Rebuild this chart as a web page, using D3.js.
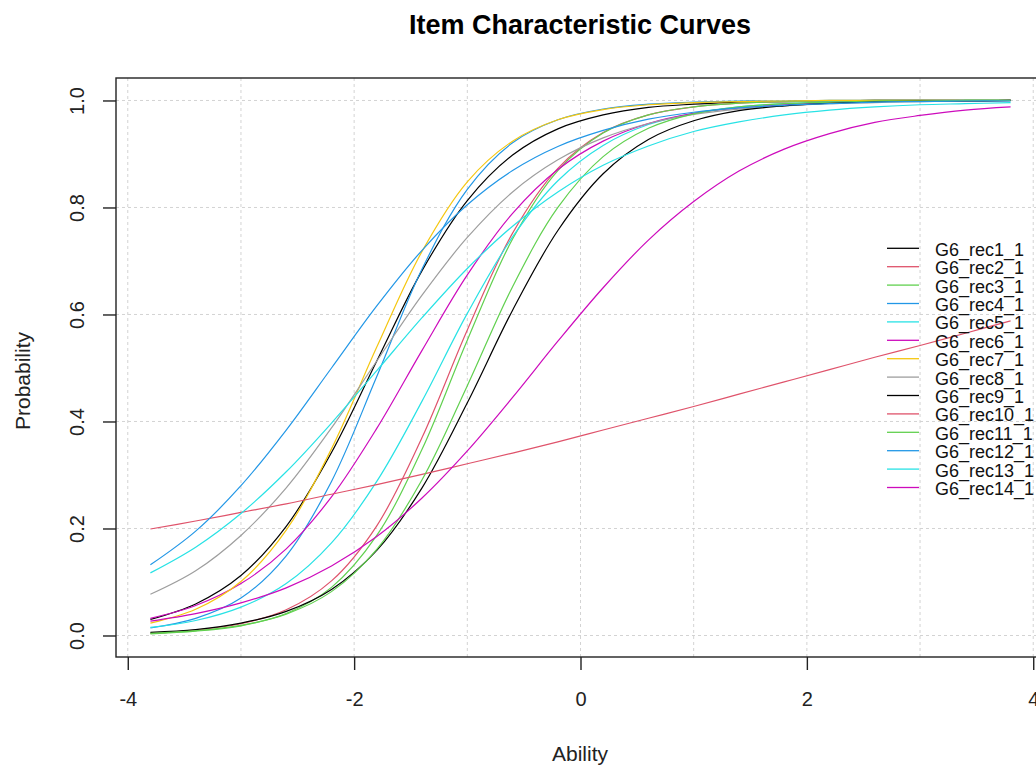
<!DOCTYPE html>
<html><head><meta charset="utf-8">
<script src="https://cdn.jsdelivr.net/npm/d3@7"></script>
<style>
body{margin:0;background:#fff;}
svg{display:block;font-family:"Liberation Sans",Arial,sans-serif;}
</style>
</head><body>
<svg id="chart" width="1036" height="767"></svg>
<script>
// ---------------- data ----------------
const ability = [-3.8,-3.4,-3.0,-2.6,-2.2,-1.8,-1.4,-1.0,-0.6,-0.2,0.2,0.6,1.0,1.4,1.8,2.2,2.6,3.0,3.4,3.8];
const itemNames = ["G6_rec1_1","G6_rec2_1","G6_rec3_1","G6_rec4_1","G6_rec5_1","G6_rec6_1","G6_rec7_1",
                   "G6_rec8_1","G6_rec9_1","G6_rec10_1","G6_rec11_1","G6_rec12_1","G6_rec13_1","G6_rec14_1"];
const rec1  = [0.030,0.059,0.112,0.204,0.342,0.513,0.682,0.813,0.898,0.947,0.973,0.987,0.993,0.997,0.998,0.999,1.000,1.000,1.000,1.000];
const rec2  = [0.004,0.010,0.022,0.048,0.102,0.205,0.370,0.571,0.752,0.873,0.940,0.973,0.988,0.995,0.998,0.999,1.000,1.000,1.000,1.000];
const rec3  = [0.003,0.008,0.018,0.041,0.090,0.187,0.348,0.552,0.741,0.869,0.939,0.973,0.988,0.995,0.998,0.999,1.000,1.000,1.000,1.000];
const rec4  = [0.014,0.032,0.070,0.149,0.288,0.484,0.685,0.834,0.921,0.964,0.984,0.993,0.997,0.999,0.999,1.000,1.000,1.000,1.000,1.000];
const rec5  = [0.015,0.028,0.053,0.097,0.173,0.288,0.438,0.602,0.745,0.850,0.916,0.955,0.976,0.988,0.994,0.997,0.998,0.999,1.000,1.000];
const rec6  = [0.032,0.056,0.097,0.162,0.259,0.387,0.533,0.674,0.789,0.871,0.924,0.957,0.976,0.986,0.992,0.996,0.998,0.999,0.999,1.000];
const rec7  = [0.023,0.049,0.101,0.197,0.349,0.539,0.718,0.848,0.924,0.964,0.983,0.992,0.996,0.998,0.999,1.000,1.000,1.000,1.000,1.000];
const rec8  = [0.077,0.121,0.187,0.276,0.388,0.513,0.636,0.744,0.829,0.889,0.930,0.957,0.974,0.984,0.990,0.994,0.996,0.998,0.999,0.999];
const rec9  = [0.006,0.011,0.023,0.045,0.086,0.159,0.276,0.435,0.608,0.757,0.863,0.927,0.962,0.981,0.990,0.995,0.998,0.999,0.999,1.000];
const rec10 = [0.199,0.214,0.230,0.246,0.264,0.282,0.301,0.321,0.341,0.362,0.384,0.406,0.428,0.451,0.474,0.497,0.520,0.542,0.565,0.588];
const rec11 = [0.004,0.009,0.019,0.040,0.082,0.161,0.291,0.467,0.652,0.800,0.895,0.948,0.975,0.988,0.994,0.997,0.999,0.999,1.000,1.000];
const rec12 = [0.132,0.195,0.280,0.384,0.500,0.616,0.720,0.805,0.869,0.914,0.944,0.965,0.978,0.986,0.991,0.994,0.997,0.998,0.999,0.999];
const rec13 = [0.117,0.165,0.228,0.306,0.397,0.495,0.594,0.686,0.765,0.829,0.879,0.915,0.942,0.960,0.973,0.982,0.988,0.992,0.994,0.996];
const rec14 = [0.027,0.041,0.061,0.089,0.130,0.185,0.257,0.345,0.445,0.550,0.650,0.739,0.811,0.868,0.909,0.938,0.959,0.972,0.982,0.988];
const seriesValues = [rec1,rec2,rec3,rec4,rec5,rec6,rec7,rec8,rec9,rec10,rec11,rec12,rec13,rec14];
const palette = ["#000000","#DF536B","#61D04F","#2297E6","#28E2E5","#CD0BBC","#F5C710","#9E9E9E"];
const xTicks = [-4,-2,0,2,4];
const xGridValues = [-4,-3,-2,-1,0,1,2,3,4];
const yTicks = [0,0.2,0.4,0.6,0.8,1.0];
const yTickLabels = ["0.0","0.2","0.4","0.6","0.8","1.0"];
const titleText = "Item Characteristic Curves";
const xLabel = "Ability";
const yLabel = "Probability";

// ---------------- layout ----------------
const svg = d3.select("#chart");
const plot = {left:116, right:1045, top:78, bottom:657};
const FONT = '"Liberation Sans", Arial, sans-serif';

// R-style 4% axis expansion
const xExt = d3.extent(ability), xPad = (xExt[1]-xExt[0])*0.04;
const x = d3.scaleLinear().domain([xExt[0]-xPad, xExt[1]+xPad]).range([plot.left, plot.right]);
const y = d3.scaleLinear().domain([-0.0402, 1.042]).range([plot.bottom, plot.top]);

// grid
const grid = svg.append("g").attr("stroke","#d3d3d3").attr("stroke-width",1).attr("stroke-dasharray","3,3");
grid.selectAll("line.v").data(xGridValues).join("line")
  .attr("x1",d=>x(d)).attr("x2",d=>x(d)).attr("y1",plot.top).attr("y2",plot.bottom);
grid.selectAll("line.h").data(yTicks).join("line")
  .attr("y1",d=>y(d)).attr("y2",d=>y(d)).attr("x1",plot.left).attr("x2",plot.right);

// curves
const line = d3.line().x(d=>x(d[0])).y(d=>y(d[1])).curve(d3.curveCatmullRom.alpha(0.5));
const curves = svg.append("g").attr("fill","none").attr("stroke-width",1.2);
seriesValues.forEach((vals,i)=>{
  curves.append("path")
    .attr("d", line(ability.map((a,j)=>[a, vals[j]])))
    .attr("stroke", palette[i % palette.length]);
});

// box
svg.append("rect").attr("x",plot.left).attr("y",plot.top)
  .attr("width",plot.right-plot.left).attr("height",plot.bottom-plot.top)
  .attr("fill","none").attr("stroke","#222").attr("stroke-width",1.4);

// x axis
const xAxis = svg.append("g").attr("transform",`translate(0,${plot.bottom})`)
  .call(d3.axisBottom(x).tickValues(xTicks).tickSize(13).tickFormat(d=>d3.format("d")(d).replace("−","-")));
xAxis.select(".domain").remove();
xAxis.selectAll(".tick line").attr("stroke","#222").attr("stroke-width",1.4);
xAxis.selectAll(".tick text").attr("y",49).attr("dy",0).attr("font-size",20)
  .attr("font-family",FONT).attr("fill","#222");

// y axis
const yAxis = svg.append("g").attr("transform",`translate(${plot.left},0)`)
  .call(d3.axisLeft(y).tickValues(yTicks).tickSize(13).tickFormat((d,i)=>yTickLabels[i]));
yAxis.select(".domain").remove();
yAxis.selectAll(".tick line").attr("stroke","#222").attr("stroke-width",1.4);
yAxis.selectAll(".tick text").attr("transform","rotate(-90)")
  .attr("x",0).attr("y",-32).attr("dy",0).attr("text-anchor","middle")
  .attr("font-size",20).attr("font-family",FONT).attr("fill","#222");

// title & axis labels
svg.append("text").attr("x",580).attr("y",34).attr("text-anchor","middle")
  .attr("font-size",27).attr("font-weight","bold").attr("fill","#000").text(titleText);
svg.append("text").attr("x",580).attr("y",761).attr("text-anchor","middle")
  .attr("font-size",21).attr("fill","#222").text(xLabel);
svg.append("text").attr("transform","translate(30,381) rotate(-90)").attr("text-anchor","middle")
  .attr("font-size",21).attr("fill","#222").text(yLabel);

// legend (no box)
const legend = svg.append("g");
itemNames.forEach((name,i)=>{
  const ly = 248.3 + i*18.4;
  legend.append("line").attr("x1",887).attr("x2",919).attr("y1",ly).attr("y2",ly)
    .attr("stroke",palette[i % palette.length]).attr("stroke-width",1.3);
  legend.append("text").attr("x",935).attr("y",ly+7.5).attr("font-size",18)
    .attr("fill","#111").text(name);
});
</script>
</body></html>
